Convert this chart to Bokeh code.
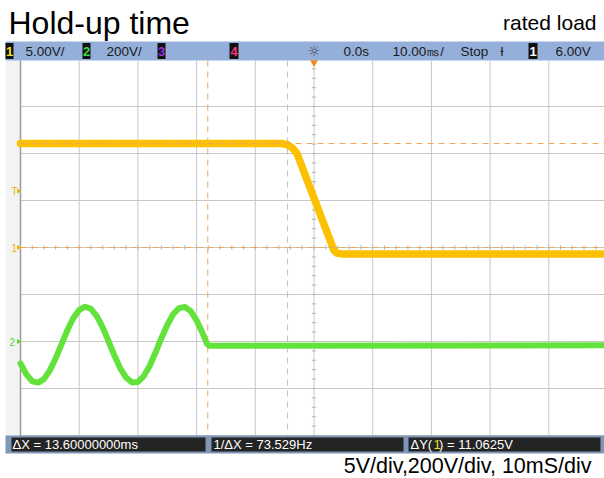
import numpy as np
from bokeh.plotting import figure
from bokeh.models import Range1d
from bokeh.core.properties import value
from bokeh.embed import file_html
from bokeh.resources import INLINE

# ---------------- data ----------------
# Channel 1 (yellow, output voltage), time in ms, value in V
ch1_t = [-50, -5.6, -4.6, -3.7, -2.9, 3.4, 3.9, 4.6, 50]
ch1_v = [11.06, 11.06, 10.96, 10.6, 10.0, -0.3, -0.6, -0.68, -0.68]
# Channel 2 (green, AC input), time in ms, value in V
ch2_t = [-50, -49, -48, -47, -46, -45, -44, -43, -42, -41, -40, -39, -38, -37,
         -36, -35, -34, -33, -32, -31, -30, -29, -28, -27, -26, -25, -24, -23,
         -22, -21, -20, -19, -18.2, -17.8, 50]
ch2_v = [-93, -140, -169, -175, -160, -123, -71, -11, 49, 100, 134, 148, 139, 108,
         60, 1, -60, -114, -154, -174, -172, -147, -104, -47, 14, 70, 116, 142,
         147, 129, 90, 37, -11, -18, -16]
ch1_scale = 5.0      # V/div
ch2_scale = 200.0    # V/div
ch1_offset = 0.0     # div
ch2_offset = -2.0    # div
trig_level = 6.0     # V
cursor_x = [-18.1, -4.5]       # ms
cursor_y = [11.0625, 0.0]      # V (channel 1)
time_ticks = list(range(-50, 51, 10))
div_ticks = list(range(-4, 5))

status_items = ["5.00V/", "200V/", "0.0s", "10.00\u33b3/", "Stop", "\u019a", "6.00V"]
meas_items = ["\u0394X = 13.60000000ms", "1/\u0394X = 73.529Hz"]
title_text = "Hold-up time"
load_text = "rated load"
scale_text = "5V/div,200V/div, 10mS/div"

# ---------------- page geometry helpers ----------------
PX_MS = 5.87          # pixels per ms
PX_DIV = 47.0         # pixels per vertical division
T_LEFT = -50 - 20 / PX_MS


def X(px):
    return T_LEFT + px / PX_MS


def Y(py):
    return (247 - py) / PX_DIV


W, H = 604, 478
p = figure(width=W, height=H, x_range=Range1d(X(0), X(W)),
           y_range=Range1d(Y(H), Y(0)), output_backend="svg",
           toolbar_location=None, min_border=0, x_axis_type=None, y_axis_type=None)
p.grid.visible = False
p.outline_line_color = None
p.background_fill_color = "white"
p.border_fill_color = "white"

FONT = value("Liberation Sans")

# left strip
p.quad(left=X(5), right=X(20), top=Y(60), bottom=Y(436), fill_color="#f3f3f3", line_color=None)

# grid
gx = [t for t in time_ticks if X(0) <= t <= X(W)]
p.segment(x0=gx, y0=[Y(60)] * len(gx), x1=gx, y1=[Y(436)] * len(gx),
          line_color="#c8c8c8", line_width=1)
p.segment(x0=[X(20)] * len(div_ticks), y0=div_ticks, x1=[X(604)] * len(div_ticks), y1=div_ticks,
          line_color="#c8c8c8", line_width=1)
p.segment(x0=[X(20)], y0=[Y(60)], x1=[X(20)], y1=[Y(436)], line_color="#9a9a9a", line_width=1.5)

# minor ticks on centre lines
mt = np.arange(-50, 50.01, 2.0)
p.segment(x0=mt, y0=[-0.045] * len(mt), x1=mt, y1=[0.045] * len(mt), line_color="#b4b4b4")
md = np.arange(-4, 4.01, 0.2)
p.segment(x0=[-0.35] * len(md), y0=md, x1=[0.35] * len(md), y1=md, line_color="#b4b4b4")

# cursors
p.segment(x0=[cursor_x[0]], y0=[Y(60)], x1=[cursor_x[0]], y1=[Y(436)],
          line_color="#f2a65a", line_dash="6 5", line_width=1)
p.segment(x0=[cursor_x[1]], y0=[Y(60)], x1=[cursor_x[1]], y1=[Y(436)],
          line_color="#bdbdbd", line_dash="6 5", line_width=1)
cy = [ch1_offset + v / ch1_scale for v in cursor_y]

# traces
ch2_d = [ch2_offset + v / ch2_scale for v in ch2_v]
p.line(ch2_t, ch2_d, line_color="#62e23a", line_width=6, line_join="round", line_cap="round")
ch1_d = [ch1_offset + v / ch1_scale for v in ch1_v]
p.line(ch1_t, ch1_d, line_color="#fbc000", line_width=7.5, line_join="round", line_cap="round")

# horizontal cursors drawn over the traces
p.segment(x0=[X(20)] * 2, y0=cy, x1=[X(604)] * 2, y1=cy,
          line_color="#f2a65a", line_dash="6 5", line_width=1)

# channel markers on the left
p.text(x=[X(11)], y=[ch1_offset + trig_level / ch1_scale], text=["T"], text_color="#e8b400",
       text_font=FONT, text_font_size=value("10px"), text_baseline="middle", text_align="left")
p.text(x=[X(11)], y=[ch1_offset], text=["1"], text_color="#e8b400",
       text_font=FONT, text_font_size=value("10px"), text_baseline="middle", text_align="left")
p.text(x=[X(9)], y=[ch2_offset], text=["2"], text_color="#52d82c",
       text_font=FONT, text_font_size=value("10px"), text_baseline="middle", text_align="left")
p.scatter(x=[X(18), X(18), X(18)],
          y=[ch1_offset + trig_level / ch1_scale, ch1_offset, ch2_offset],
          marker="triangle", angle=-np.pi / 2, size=5,
          fill_color=["#e8b400", "#e8b400", "#52d82c"], line_color=None)

# top status bar
p.quad(left=X(5), right=X(604), top=Y(41), bottom=Y(60), fill_color="#94afd9", line_color=None)
boxes = [(5, 13, "1", "#f4e21c"), (82, 90, "2", "#3ddc3d"), (157, 165, "3", "#9b30e0"),
         (229, 238, "4", "#ff3080"), (528, 537, "1", "#ffffff")]
p.quad(left=[X(b[0]) for b in boxes], right=[X(b[1]) for b in boxes],
       top=[Y(42.5)] * len(boxes), bottom=[Y(58.5)] * len(boxes),
       fill_color="#111111", line_color=None)
p.text(x=[X((b[0] + b[1]) / 2) for b in boxes], y=[Y(50.5)] * len(boxes),
       text=[b[2] for b in boxes], text_color=[b[3] for b in boxes],
       text_font=FONT, text_font_size=value("13px"), text_font_style="bold",
       text_align="center", text_baseline="middle")
status_x = [25, 106, 343, 392, 460, 500, 555]
p.text(x=[X(v) for v in status_x], y=[Y(50.5)] * len(status_x), text=status_items,
       text_color="#1a1a1a", text_font=FONT, text_font_size=value("13.5px"),
       text_align="left", text_baseline="middle")
p.text(x=[X(313.5)], y=[Y(50.5)], text=["\u263c"], text_color="#444444",
       text_font=value("DejaVu Sans"), text_font_size=value("14px"),
       text_align="center", text_baseline="middle")
p.scatter(x=[0.0], y=[Y(62)], marker="inverted_triangle", size=8,
          fill_color="#f08a20", line_color=None)

# bottom measurement bar
p.quad(left=X(5), right=X(604), top=Y(435), bottom=Y(453), fill_color="#7f96b6", line_color=None)
mboxes = [(11, 205), (211, 403), (408, 600)]
p.quad(left=[X(a) for a, b in mboxes], right=[X(b) for a, b in mboxes],
       top=[Y(437)] * 3, bottom=[Y(451)] * 3, fill_color="#242424", line_color=None)
p.text(x=[X(12), X(213)], y=[Y(444)] * 2, text=meas_items, text_color="white",
       text_font=FONT, text_font_size=value("13px"), text_align="left", text_baseline="middle")
p.text(x=[X(410), X(433), X(438.5)], y=[Y(444)] * 3,
       text=["\u0394Y(", "1", ") = 11.0625V"], text_color=["white", "#f4e21c", "white"],
       text_font=FONT, text_font_size=value("13px"), text_align="left", text_baseline="middle")

# titles (vertical centres of the text lines)
p.text(x=[X(8)], y=[Y(22)], text=[title_text], text_color="black", text_font=FONT,
       text_font_size=value("32px"), text_align="left", text_baseline="middle")
p.text(x=[X(596)], y=[Y(22)], text=[load_text], text_color="black", text_font=FONT,
       text_font_size=value("21px"), text_align="right", text_baseline="middle")
p.text(x=[X(591)], y=[Y(465)], text=[scale_text], text_color="black", text_font=FONT,
       text_font_size=value("21.5px"), text_align="right", text_baseline="middle")

open("out.html", "w").write(file_html(p, INLINE))
